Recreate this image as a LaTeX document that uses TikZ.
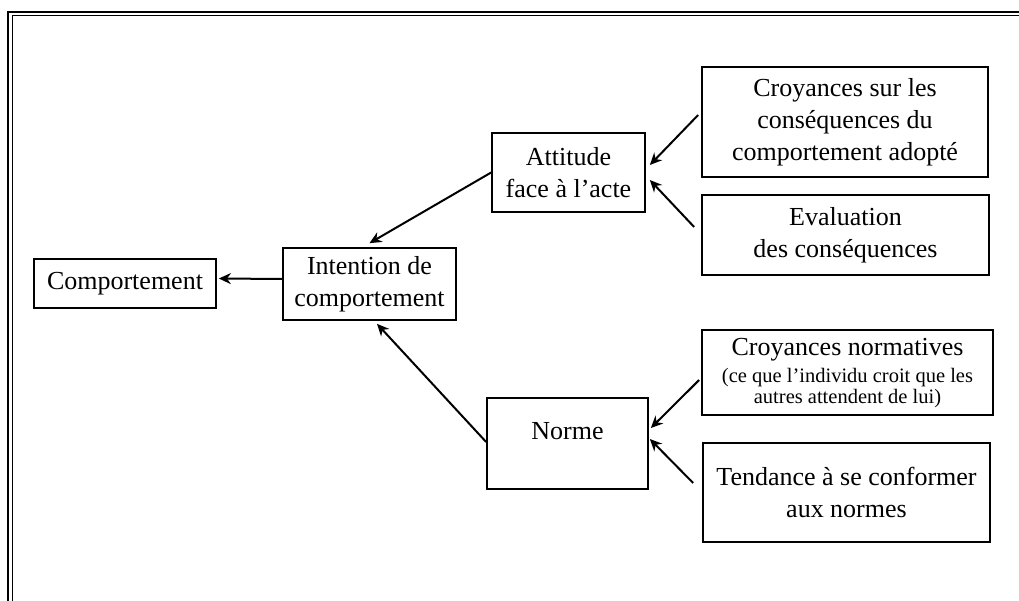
\documentclass[tikz,border=0pt]{standalone}
\usepackage{fontspec}
\setmainfont{Liberation Serif}
\usetikzlibrary{arrows.meta}
\begin{document}
\begin{tikzpicture}[x=1pt,y=-1pt,
  box/.style={draw,line width=1.7pt,inner sep=0pt,align=center,font=\fontsize{26}{32}\selectfont},
  txt/.style={inner sep=0pt,align=center,font=\fontsize{26}{32}\selectfont},
  arr/.style={line width=2pt,-{Stealth[length=12pt,width=11pt]}},
  frame/.style={line width=1.3pt}]
\useasboundingbox (0,0) rectangle (1019,601);
% frame (top and left double lines)
\draw[frame] (7,12) -- (1019,12);
\draw[frame] (12,15.5) -- (1019,15.5);
\draw[frame] (8,12) -- (8,601);
\draw[frame] (12.5,15.5) -- (12.5,601);
% boxes
\node[box,minimum width=182pt,minimum height=49pt] (comp) at (125,283.5) {Comportement};
\node[box,minimum width=173pt,minimum height=72pt] (int) at (369.5,284) {Intention de\\comportement};
\node[box,minimum width=153pt,minimum height=79pt] (att) at (568.5,172.5) {Attitude\\face à l’acte};
\node[box,minimum width=161pt,minimum height=91pt] (norme) at (567.5,443.5) {};
\node[txt] (normetxt) at (567.5,431) {Norme};
\node[box,minimum width=286pt,minimum height=110pt] (cs) at (845,122) {Croyances sur les\\conséquences du\\comportement adopté};
\node[box,minimum width=287pt,minimum height=80pt] (eval) at (845.5,235) {Evaluation\\des conséquences};
\node[box,minimum width=291pt,minimum height=85pt] (cn) at (847.5,372.5) {};
\node[txt] (cntitle) at (847.5,350) {Croyances normatives};
\node[txt,font=\fontsize{20.5}{21}\selectfont] (cnsub) at (847.5,388) {(ce que l’individu croit que les\\autres attendent de lui)};
\node[box,minimum width=287pt,minimum height=99pt] (tend) at (846.5,492.5) {Tendance à se conformer\\aux normes};
% arrows
\draw[arr] ([yshift=5pt]int.west) -- ([yshift=5pt,xshift=2pt]comp.east);
\draw[arr] (att.west) -- ([yshift=4pt]int.north);
\draw[arr] ([yshift=1.5pt]norme.west) -- ([xshift=7.5pt,yshift=-3pt]int.south);
\draw[arr] ([xshift=-3pt,yshift=7pt]cs.west) -- ([xshift=4pt,yshift=7.5pt]att.east);
\draw[arr] ([xshift=-7pt,yshift=8pt]eval.west) -- ([xshift=4pt,yshift=-7.5pt]att.east);
\draw[arr] ([xshift=-2pt,yshift=-7.5pt]cn.west) -- ([xshift=2pt,yshift=15.5pt]norme.east);
\draw[arr] ([xshift=-9pt,yshift=9.5pt]tend.west) -- ([xshift=1pt,yshift=4.5pt]norme.east);
\end{tikzpicture}
\end{document}
